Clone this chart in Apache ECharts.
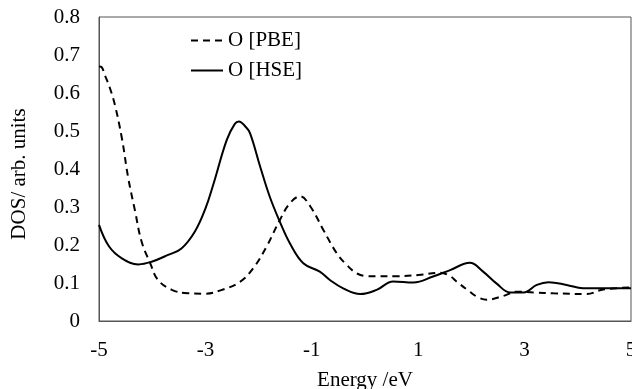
<!DOCTYPE html>
<html>
<head>
<meta charset="utf-8">
<script src="https://cdn.jsdelivr.net/npm/echarts@6/dist/echarts.min.js"></script>
<style>
  html, body { margin: 0; padding: 0; background: #fff; }
  #main { width: 632px; height: 389px; }
</style>
</head>
<body>
<div id="main"></div>
<script>
// O [PBE] - dashed
var pbeEnergy = [-5.0, -4.95, -4.89, -4.8, -4.7, -4.57, -4.45, -4.32, -4.2, -4.04, -3.89, -3.63, -3.33, -3.0,
  -2.73, -2.35, -2.1, -1.85, -1.6, -1.41, -1.22, -1.03, -0.78, -0.53, -0.34, -0.15, 0.05, 0.6, 1.0, 1.41,
  1.6, 1.72, 1.97, 2.13, 2.29, 2.6, 2.85, 3.2, 3.54, 4.17, 4.48, 5.0];
var pbeDos = [0.670, 0.668, 0.647, 0.615, 0.568, 0.481, 0.376, 0.288, 0.209, 0.153, 0.108, 0.082, 0.073, 0.072,
  0.080, 0.103, 0.139, 0.196, 0.266, 0.310, 0.328, 0.302, 0.239, 0.178, 0.147, 0.125, 0.118, 0.118, 0.121, 0.127,
  0.118, 0.104, 0.077, 0.062, 0.056, 0.066, 0.077, 0.075, 0.073, 0.071, 0.083, 0.088];

// O [HSE] - solid
var hseEnergy = [-5.0, -4.81, -4.57, -4.26, -4.01, -3.7, -3.45, -3.2, -3.0, -2.85, -2.6, -2.45, -2.37, -2.25,
  -2.16, -1.97, -1.79, -1.6, -1.41, -1.16, -0.85, -0.66, -0.41, -0.09, 0.22, 0.53, 0.91, 1.28, 1.6, 1.97,
  2.22, 2.47, 2.73, 2.98, 3.23, 3.45, 3.79, 4.1, 5.0];
var hseDos = [0.253, 0.196, 0.165, 0.149, 0.156, 0.174, 0.191, 0.235, 0.296, 0.360, 0.476, 0.518, 0.525, 0.512,
  0.494, 0.406, 0.327, 0.261, 0.204, 0.152, 0.130, 0.108, 0.086, 0.071, 0.082, 0.104, 0.101, 0.117, 0.134, 0.153,
  0.130, 0.099, 0.075, 0.075, 0.095, 0.102, 0.095, 0.086, 0.086];

var seriesNames = ['O [PBE]', 'O [HSE]'];

function pairs(xs, ys) {
  var out = [];
  for (var i = 0; i < xs.length; i++) out.push([xs[i], ys[i]]);
  return out;
}

var font = 'Liberation Serif';
var myChart = echarts.init(document.getElementById('main'), null, { renderer: 'canvas' });
var option = {
  animation: false,
  textStyle: { fontFamily: font, color: '#000' },
  grid: {
    left: 99, top: 17, right: 1, bottom: 68,
    outerBoundsMode: 'none',
    containLabel: false,
    show: true, borderColor: '#555', borderWidth: 1
  },
  legend: {
    orient: 'vertical',
    left: 190, top: 30, padding: 0,
    itemWidth: 32, itemHeight: 14, itemGap: 9,
    itemStyle: { color: 'transparent', borderWidth: 0, opacity: 0 },
    textStyle: { fontFamily: font, fontSize: 21, color: '#000' },
    data: seriesNames
  },
  xAxis: {
    type: 'value',
    min: -5, max: 5, interval: 2,
    name: 'Energy /eV',
    nameLocation: 'middle',
    nameGap: 49,
    nameTextStyle: { fontFamily: font, fontSize: 21, color: '#000' },
    axisLine: { onZero: false, lineStyle: { color: '#555', width: 1 } },
    axisTick: { show: false },
    splitLine: { show: false },
    axisLabel: { fontFamily: font, fontSize: 21, color: '#000', margin: 19 }
  },
  yAxis: {
    type: 'value',
    min: 0, max: 0.8, interval: 0.1,
    name: 'DOS/ arb. units',
    nameLocation: 'middle',
    nameGap: 69,
    nameTextStyle: { fontFamily: font, fontSize: 21, color: '#000', padding: [0, 10, 0, 0] },
    axisLine: { show: true, onZero: false, lineStyle: { color: '#555', width: 1 } },
    axisTick: { show: false },
    splitLine: { show: false },
    axisLabel: {
      fontFamily: font, fontSize: 21, color: '#000', margin: 19,
      formatter: function (v) { return v === 0 ? '0' : v.toFixed(1); }
    }
  },
  series: [
    {
      name: seriesNames[0],
      type: 'line',
      data: pairs(pbeEnergy, pbeDos),
      smooth: 0.4,
      symbol: 'none',
      showSymbol: false,
      lineStyle: { color: '#000', width: 2, type: [7, 5] },
      itemStyle: { color: '#000' }
    },
    {
      name: seriesNames[1],
      type: 'line',
      data: pairs(hseEnergy, hseDos),
      smooth: 0.4,
      symbol: 'none',
      showSymbol: false,
      lineStyle: { color: '#000', width: 2, type: 'solid' },
      itemStyle: { color: '#000' }
    }
  ]
};
myChart.setOption(option);
</script>
</body>
</html>
